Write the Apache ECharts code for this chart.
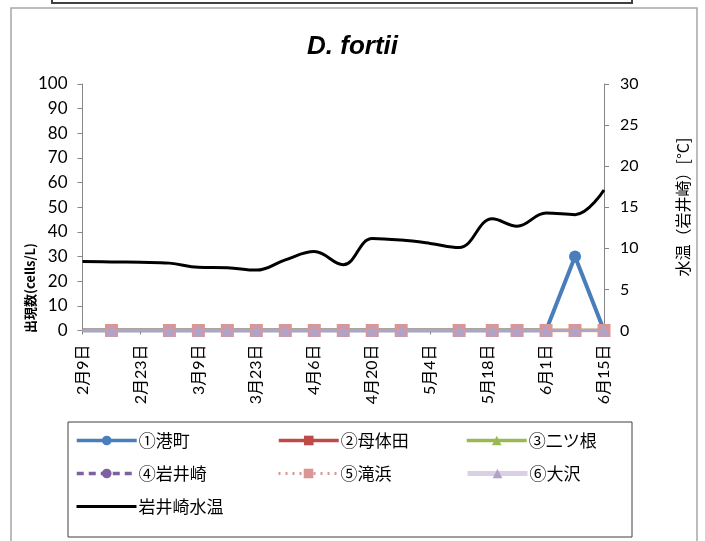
<!DOCTYPE html>
<html><head><meta charset="utf-8">
<script src="https://cdn.jsdelivr.net/npm/echarts@6/dist/echarts.min.js"></script>
<style>html,body{margin:0;padding:0;background:#fff}#c{width:705px;height:541px}</style>
</head><body><div id="c"></div>
<script>
// ---- data ----
const countDates = ['2015-02-09','2015-02-16','2015-03-02','2015-03-09','2015-03-16','2015-03-23','2015-03-30','2015-04-06','2015-04-13','2015-04-20','2015-04-27','2015-05-11','2015-05-19','2015-05-25','2015-06-01','2015-06-08','2015-06-15'];
const s1Minato   = [0,0,0,0,0,0,0,0,0,0,0,0,0,0,0,30,0];
const s2Botaida  = [0,0,0,0,0,0,0,0,0,0,0,0,0,0,0,0,0];
const s3Futatsune= [0,0,0,0,0,0,0,0,0,0,0,0,0,0,0,0,0];
const s4Iwaisaki = [0,0,0,0,0,0,0,0,0,0,0,0,0,0,0,0,0];
const s5Takihama = [0,0,0,0,0,0,0,0,0,0,0,0,0,0,0,0,0];
const s6Osawa    = [0,0,0,0,0,0,0,0,0,0,0,0,0,0,0,0,0];
const tempDates = ['2015-02-09','2015-02-16','2015-02-23','2015-03-02','2015-03-09','2015-03-16','2015-03-23','2015-03-30','2015-04-06','2015-04-13','2015-04-20','2015-04-27','2015-05-04','2015-05-11','2015-05-19','2015-05-25','2015-06-01','2015-06-08','2015-06-15'];
const tempValues = [8.4,8.35,8.3,8.2,7.7,7.65,7.35,8.6,9.6,8.0,11.2,11.0,10.6,10.1,13.6,12.7,14.3,14.1,17.1];
const xTickLabels = ['2月9日','2月23日','3月9日','3月23日','4月6日','4月20日','5月4日','5月18日','6月1日','6月15日'];
const seriesNames = ['①港町','②母体田','③二ツ根','④岩井崎','⑤滝浜','⑥大沢','岩井崎水温'];
const titleText = 'D. fortii';
const leftAxisTitle = '出現数(cells/L)';
const rightAxisTitle = '水温（岩井崎）[°C]';

// ---- helpers ----
const base = Date.UTC(2015,1,9);
function off(d){const p=d.split('-');return Math.round((Date.UTC(+p[0],+p[1]-1,+p[2])-base)/86400000);}
const cOff = countDates.map(off);
const tOff = tempDates.map(off);
function pts(arr){return arr.map((v,i)=>i===0?{value:[cOff[i],v],symbol:'none'}:{value:[cOff[i],v]});}

const numFont = 'Lato, "Noto Sans CJK JP", sans-serif';
const jpFont = '"Noto Sans CJK JP", sans-serif';
const axisGray = '#868686';

const chart = echarts.init(document.getElementById('c'), null, {renderer:'canvas'});

function lineSeries(idx, data, color, symbol, size, lineType, width){
  return {
    name: seriesNames[idx], type:'line', data: pts(data),
    symbol: symbol, symbolSize: size, showSymbol:true,
    lineStyle:{color:color, width:width, type:lineType},
    itemStyle:{color:color, borderWidth:0},
    emphasis:{disabled:true}, animation:false, z: 2+idx
  };
}

const legendPos = [
  [75,432],[277,432],[465,432],
  [75,465],[277,465],[465,465],
  [75,498]
];
const legendLine = [
  {width:3.5, type:'solid'},{width:3.5, type:'solid'},{width:3.5, type:'solid'},
  {width:3.5, type:[7,5]},{width:3, type:[2,5]},{width:5, type:'solid', color:'#D9D0E6'},
  {width:3, type:'solid'}
];

const option = {
  animation:false,
  backgroundColor:'#fff',
  title:{text:titleText, left:'center', top:29,
    textStyle:{fontFamily:'"Liberation Sans", Arial, sans-serif', fontSize:26, fontWeight:'bold', fontStyle:'italic', color:'#000'}},
  grid:{left:82.5, right:101, top:84, bottom:210.5, containLabel:false},
  xAxis:{type:'value', min:0, max:126, interval:14,
    axisLine:{lineStyle:{color:axisGray, width:1}},
    axisTick:{show:true, length:4, lineStyle:{color:axisGray}},
    splitLine:{show:false},
    axisLabel:{rotate:90, margin:14, fontSize:16, color:'#000', fontFamily:numFont,
      formatter:function(v){return xTickLabels[Math.round(v/14)]||'';}}},
  yAxis:[
    {type:'value', min:0, max:100, interval:10, position:'left',
     axisLine:{show:true, lineStyle:{color:axisGray}},
     axisTick:{show:true, length:5, lineStyle:{color:axisGray}},
     splitLine:{show:false},
     axisLabel:{margin:15, fontSize:17, color:'#000', fontFamily:numFont}},
    {type:'value', min:0, max:30, interval:5, position:'right',
     axisLine:{show:true, lineStyle:{color:axisGray}},
     axisTick:{show:true, length:5, lineStyle:{color:axisGray}},
     splitLine:{show:false},
     axisLabel:{margin:16, fontSize:16, color:'#000', fontFamily:numFont}}
  ],
  legend: seriesNames.map((n,i)=>{
    const lg = {
      data:[n], left:legendPos[i][0], top:legendPos[i][1], itemWidth:60, itemHeight:12,
      itemGap:0, padding:0, textStyle:{fontSize:17, fontFamily:jpFont, color:'#000', padding:[0,0,0,-3]},
      selectedMode:false, lineStyle:legendLine[i]
    };
    if(i===6){ lg.itemStyle = {opacity:0}; }
    return lg;
  }),
  series:[
    lineSeries(0, s1Minato, '#4A7EBB', 'circle', 12, 'solid', 4),
    lineSeries(1, s2Botaida, '#BE4B48', 'rect', 10, 'solid', 3.5),
    lineSeries(2, s3Futatsune, '#98B954', 'triangle', 10, 'solid', 3.5),
    lineSeries(3, s4Iwaisaki, '#7D60A0', 'circle', 10, 'dashed', 3),
    lineSeries(4, s5Takihama, '#D99694', 'rect', 13, 'dotted', 3),
    lineSeries(5, s6Osawa, '#B3A2C7', 'triangle', 12, 'solid', 3),
    {name:seriesNames[6], type:'line', yAxisIndex:1, smooth:0.4, showSymbol:false, symbol:'none',
     data: tempValues.map((v,i)=>[tOff[i], v]),
     lineStyle:{color:'#000', width:3}, itemStyle:{color:'#000'}, z:10, emphasis:{disabled:true}}
  ],
  graphic:[
    {type:'rect', shape:{x:11, y:8, width:686, height:560}, style:{fill:'none', stroke:'#A6A6A6', lineWidth:1.5}, z:-1},
    {type:'rect', shape:{x:52, y:-10, width:580, height:13}, style:{fill:'none', stroke:'#404040', lineWidth:2}},
    {type:'rect', shape:{x:68, y:422, width:564, height:115}, style:{fill:'none', stroke:'#3F3F3F', lineWidth:1}},
    {type:'text', x:30, y:288, rotation:Math.PI/2,
     style:{text:leftAxisTitle, font:'bold 13px "Noto Sans CJK JP", sans-serif', fill:'#000', textAlign:'center', textVerticalAlign:'middle'}},
    {type:'text', x:683, y:207, rotation:Math.PI/2,
     style:{text:rightAxisTitle, font:'16px "Noto Sans CJK JP", sans-serif', fill:'#000', textAlign:'center', textVerticalAlign:'middle'}}
  ]
};
chart.setOption(option);
</script>
</body></html>
